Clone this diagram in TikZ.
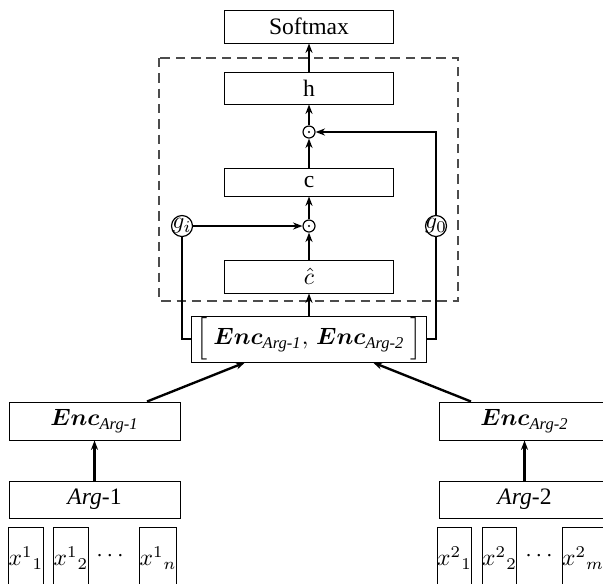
\documentclass[tikz,border=0pt]{standalone}
\usepackage{amsmath}
\usepackage{fontspec}
\setmainfont{Liberation Serif}
\usetikzlibrary{arrows.meta}
\newcommand\pxu{0.424pt}
\begin{document}
\begin{tikzpicture}[x=0.424pt,y=-0.424pt,
  bx/.style 2 args={draw, line width=0.4pt, minimum width=#1*\pxu, minimum height=#2*\pxu, inner sep=0pt},
  dotc/.style={draw, circle, line width=0.5pt, minimum size=12*\pxu, inner sep=0pt,
    path picture={\fill (path picture bounding box.center) circle (0.45pt);}},
  gate/.style={draw, circle, line width=0.5pt, minimum size=21*\pxu, inner sep=0pt},
  gtext/.style={inner sep=0pt},
  arr/.style={line width=1pt, -{Stealth[length=4pt,width=3pt]}},
  ln/.style={line width=1pt},
  bigdash/.style={draw=black!70, line width=0.5pt, dash pattern=on 4pt off 2.5pt}]
\useasboundingbox (0,0) rectangle (603,583);
\clip (0,0) rectangle (603,583);
\draw[bigdash] (159,58) rectangle (458,301);
\node[bx={169}{33}] (soft) at (309,26.5) {Softmax};
\node[bx={169}{32}] (h) at (309,88) {h};
\node[dotc] (o1) at (309,132) {};
\node[bx={169}{28}] (c) at (309,182) {c};
\node[dotc] (o2) at (309,226) {};
\node[bx={169}{33}] (ch) at (309,276.5) {$\hat{c}$};
\node[gate] (gi) at (182,226) {};
\node[gtext] (gil) at (182,226) {$g_i$};
\node[gate] (g0) at (436,226) {};
\node[gtext] (g0l) at (436,226) {$g_0$};
\node[bx={235}{46}, fill=white] (cat) at (309,339) {$\Big[\ \boldsymbol{Enc}_{\textit{Arg-1}},\,\boldsymbol{Enc}_{\textit{Arg-2}}\ \Big]$};
\node[bx={171}{38}] (e1) at (94.5,421) {$\boldsymbol{Enc}_{\textit{Arg-1}}$};
\node[bx={171}{38}] (e2) at (524.5,421) {$\boldsymbol{Enc}_{\textit{Arg-2}}$};
\node[bx={171}{37}] (a1) at (94.5,499.5) {\textit{Arg}-1};
\node[bx={171}{37}] (a2) at (524.5,499.5) {\textit{Arg}-2};
\node[bx={34}{62}] (x11) at (26,558) {$x^1{}_1$};
\node[bx={34}{62}] (x12) at (71,558) {$x^1{}_2$};
\node (d1) at (112,556) {$\cdots$};
\node[bx={34}{62}] (x1n) at (158,558) {$x^1{}_n$};
\node[bx={34}{62}] (x21) at (454.5,558) {$x^2{}_1$};
\node[bx={34}{62}] (x22) at (499.5,558) {$x^2{}_2$};
\node (d2) at (541,556) {$\cdots$};
\node[bx={34}{62}] (x2m) at (583,558) {$x^2{}_m$};
\draw[arr] (h) -- (soft);
\draw[arr] (o1) -- (h);
\draw[arr] (c) -- (o1);
\draw[arr] (o2) -- (c);
\draw[arr] (ch) -- (o2);
\draw[arr] (cat) -- (ch);
\draw[ln] (cat.west) -| (gi.south);
\draw[arr] (gi) -- (o2);
\draw[ln] (cat.east) -| (g0.south);
\draw[arr] (g0.north) |- (o1);
\draw[arr] (a1) -- (e1);
\draw[arr] (a2) -- (e2);
\draw[arr] ([xshift=52.5*\pxu]e1.north) -- ([xshift=-64*\pxu]cat.south);
\draw[arr] ([xshift=-53.5*\pxu]e2.north) -- ([xshift=64*\pxu]cat.south);
\end{tikzpicture}
\end{document}
